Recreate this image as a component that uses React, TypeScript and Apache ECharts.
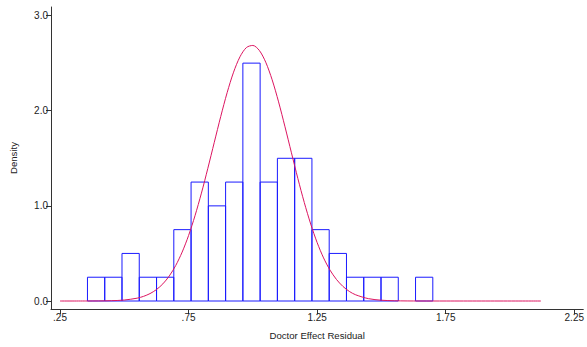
import React, { useEffect, useRef } from "react";
import * as echarts from "echarts";

// Histogram bins: left edges, common width and density heights
const binStart = 0.3568;
const binWidth = 0.06715;
const densities = [0.25, 0.25, 0.5, 0.25, 0.25, 0.75, 1.25, 1.0, 1.25, 2.5, 1.25, 1.5, 1.5, 0.75, 0.5, 0.25, 0.25, 0.25, 0, 0.25];

// Normal density overlay
const curveX = [0.25, 0.35, 0.4, 0.45, 0.5, 0.55, 0.575, 0.6, 0.625, 0.65, 0.675, 0.7, 0.725, 0.75, 0.775, 0.8, 0.825, 0.85, 0.875, 0.9, 0.925, 0.95, 0.975, 1.0, 1.025, 1.05, 1.075, 1.1, 1.125, 1.15, 1.175, 1.2, 1.225, 1.25, 1.275, 1.3, 1.325, 1.35, 1.375, 1.4, 1.45, 1.5, 1.55, 1.6, 1.7, 2.12];
const curveY = [0.0, 0.0002, 0.0009, 0.0032, 0.0103, 0.0299, 0.049, 0.0778, 0.12, 0.18, 0.263, 0.373, 0.514, 0.688, 0.896, 1.134, 1.395, 1.668, 1.938, 2.19, 2.405, 2.567, 2.664, 2.686, 2.634, 2.51, 2.325, 2.093, 1.831, 1.558, 1.288, 1.035, 0.809, 0.614, 0.453, 0.325, 0.227, 0.154, 0.101, 0.065, 0.0245, 0.0082, 0.0025, 0.0007, 0.0, 0.0];

const xTicks = [0.25, 0.75, 1.25, 1.75, 2.25];
const yTicks = [0, 1, 2, 3];

const font = "'Liberation Sans', Arial, Helvetica, sans-serif";

export default function App() {
  const ref = useRef<HTMLDivElement>(null);
  useEffect(() => {
    if (!ref.current) return;
    const chart = echarts.init(ref.current, null, { renderer: "svg" });
    const bins = densities.map((d, i) => [binStart + i * binWidth, binStart + (i + 1) * binWidth, d]);
    chart.setOption({
      animation: false,
      backgroundColor: "#ffffff",
      grid: { left: 50, top: 7, width: 537, height: 302, containLabel: false },
      xAxis: {
        type: "value",
        min: 0.215,
        max: 2.285,
        name: "Doctor Effect Residual",
        nameLocation: "middle",
        nameGap: 21,
        nameTextStyle: { fontFamily: font, fontSize: 9.6, color: "#222" },
        axisLine: { show: true, onZero: false, lineStyle: { color: "#333", width: 1 } },
        axisTick: { show: true, length: 5, customValues: xTicks, lineStyle: { color: "#333" } },
        axisLabel: {
          customValues: xTicks,
          fontFamily: font,
          fontSize: 10,
          color: "#222",
          margin: 3,
          formatter: (v: number) => String(v).replace(/^0\./, "."),
        },
        splitLine: { show: false },
      },
      yAxis: {
        type: "value",
        min: -0.084,
        max: 3.09,
        name: "Density",
        nameLocation: "middle",
        nameGap: 33,
        nameRotate: 90,
        nameTextStyle: { fontFamily: font, fontSize: 9.6, color: "#222" },
        axisLine: { show: true, onZero: false, lineStyle: { color: "#333", width: 1 } },
        axisTick: { show: true, length: 5, customValues: yTicks, lineStyle: { color: "#333" } },
        axisLabel: {
          customValues: yTicks,
          fontFamily: font,
          fontSize: 10,
          color: "#222",
          margin: 3,
          formatter: (v: number) => v.toFixed(1),
        },
        splitLine: { show: false },
      },
      series: [
        {
          type: "custom",
          data: bins,
          encode: { x: [0, 1], y: 2 },
          renderItem: (params: any, api: any) => {
            const x0 = api.value(0);
            const x1 = api.value(1);
            const h = api.value(2);
            if (h <= 0) return null;
            const p0 = api.coord([x0, 0]);
            const p1 = api.coord([x1, h]);
            return {
              type: "rect",
              shape: { x: p0[0], y: p1[1], width: p1[0] - p0[0], height: p0[1] - p1[1] },
              style: { fill: "none", stroke: "#1a1aff", lineWidth: 1 },
            };
          },
          z: 2,
        },
        {
          type: "line",
          data: curveX.map((x, i) => [x, curveY[i]]),
          smooth: 0.3,
          showSymbol: false,
          lineStyle: { color: "#dc1560", width: 1 },
          z: 3,
        },
      ],
    });
    return () => chart.dispose();
  }, []);
  return <div ref={ref} style={{ width: 587, height: 347, position: "absolute", left: 0, top: 0 }} />;
}
